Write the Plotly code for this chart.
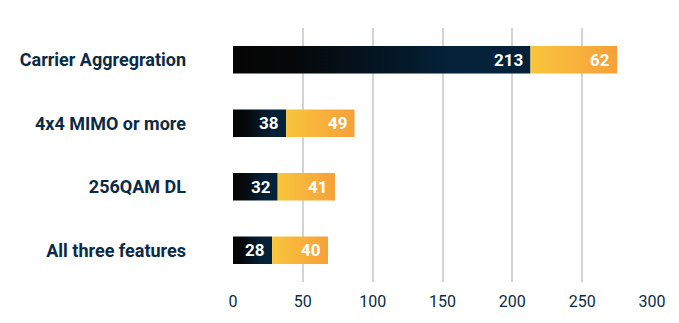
import plotly.graph_objects as go

# Feature adoption counts: first segment (dark) and second segment (orange)
categories = ["Carrier Aggregration", "4x4 MIMO or more", "256QAM DL", "All three features"]
dark_values = [213, 38, 32, 28]
orange_values = [62, 49, 41, 40]
x_ticks = [0, 50, 100, 150, 200, 250, 300]

NAVY = "#0b2a45"
DARK_SCALE = [[0, "#050505"], [0.2, "#060708"], [0.75, "#03223a"], [1, "#03223a"]]
ORANGE_SCALE = [[0, "#f9c53c"], [1, "#f6a03a"]]
HALF = 0.215  # half bar thickness in category units

ys = list(range(len(categories)))[::-1]  # first category at the top

fig = go.Figure()


def add_segment(x0, x1, yc, scale):
    fig.add_trace(go.Scatter(
        x=[x0, x1, x1, x0, x0],
        y=[yc - HALF, yc - HALF, yc + HALF, yc + HALF, yc - HALF],
        mode="lines",
        line=dict(width=0),
        fill="toself",
        fillgradient=dict(type="horizontal", colorscale=scale),
        hoverinfo="skip",
        showlegend=False,
    ))


for yc, d, o in zip(ys, dark_values, orange_values):
    add_segment(0, d, yc, DARK_SCALE)
    add_segment(d, d + o, yc, ORANGE_SCALE)
    for val, end in ((d, d), (o, d + o)):
        fig.add_annotation(x=end, y=yc, text=f"<b>{val}</b>", showarrow=False,
                           xanchor="right", xshift=-5,
                           font=dict(family="Roboto", size=17, color="white"))

fig.update_layout(
    width=679, height=323,
    margin=dict(l=233, r=27, t=28, b=41),
    plot_bgcolor="white", paper_bgcolor="white",
    xaxis=dict(
        range=[0, 300], tickvals=x_ticks, ticktext=[str(v) for v in x_ticks],
        showgrid=True, gridcolor="#d4d4d4", gridwidth=2,
        zeroline=False, showline=False, ticks="",
        ticklabelstandoff=8,
        tickfont=dict(family="Roboto", size=16, color=NAVY),
        fixedrange=True,
    ),
    yaxis=dict(
        range=[-0.5, len(categories) - 0.5],
        tickvals=ys, ticktext=[f"<b>{c}</b>" for c in categories],
        showgrid=False, zeroline=False, showline=False, ticks="",
        ticklabelstandoff=46,
        tickfont=dict(family="Roboto", size=18, color=NAVY),
        fixedrange=True,
    ),
)

fig.write_html("out.html")
